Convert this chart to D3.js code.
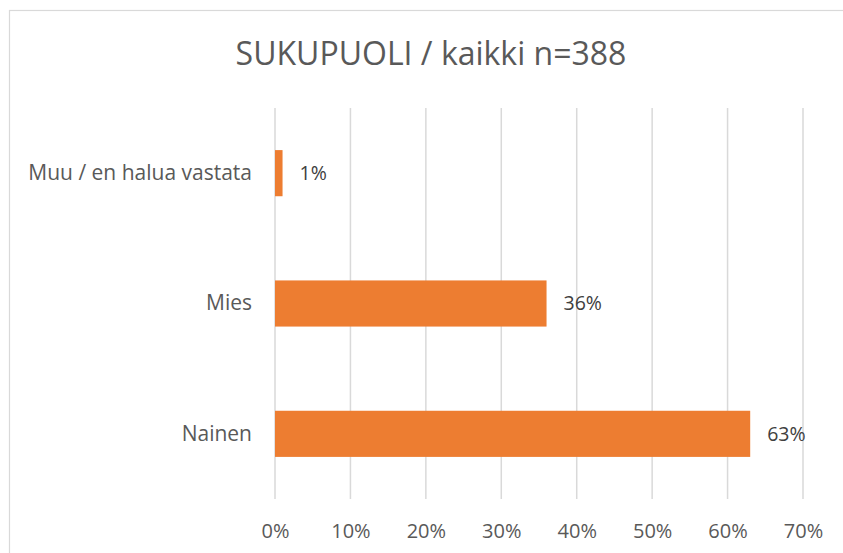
<!DOCTYPE html>
<html>
<head>
<meta charset="utf-8">
<script src="https://cdn.jsdelivr.net/npm/d3@7"></script>
<style>
  body { margin: 0; background: #fff; }
  svg { display: block; font-family: "Open Sans", "Liberation Sans", sans-serif; }
</style>
</head>
<body>
<svg width="843" height="553"></svg>
<script>
var title = "SUKUPUOLI / kaikki n=388";
var categories = ["Muu / en halua vastata", "Mies", "Nainen"];
var values = [1, 36, 63];
var ticks = [0, 10, 20, 30, 40, 50, 60, 70];

var svg = d3.select("svg"),
    margin = {top: 108, right: 40, bottom: 54, left: 275},
    width = 803 - margin.left,
    height = 499 - margin.top;

// chart border
svg.append("rect")
    .attr("x", 9.5).attr("y", 10.5)
    .attr("width", 900).attr("height", 600)
    .attr("fill", "none")
    .attr("stroke", "#d9d9d9")
    .attr("stroke-width", 1.2);

svg.append("text")
    .attr("x", 431).attr("y", 65)
    .attr("text-anchor", "middle")
    .attr("fill", "#595959")
    .style("font-size", "32px")
    .text(title);

var g = svg.append("g").attr("transform", "translate(" + margin.left + "," + margin.top + ")");

var x = d3.scaleLinear().domain([0, 70]).range([0, width]);
var y = d3.scaleBand().domain(categories).range([0, height]).paddingInner(0.646).paddingOuter(0.323);

// gridlines
g.selectAll(".grid")
    .data(ticks)
  .enter().append("line")
    .attr("x1", function(d) { return x(d); })
    .attr("x2", function(d) { return x(d); })
    .attr("y1", 0).attr("y2", height)
    .attr("stroke", "#d9d9d9")
    .attr("stroke-width", 1.5);

// x axis labels
var xAxis = g.append("g")
    .attr("transform", "translate(0," + height + ")")
    .call(d3.axisBottom(x).tickValues(ticks).tickSize(0).tickPadding(25).tickFormat(function(d) { return d + "%"; }));
xAxis.select(".domain").remove();
xAxis.selectAll("text")
    .attr("fill", "#595959")
    .style("font-size", "20px")
    .style("font-family", "'Open Sans', sans-serif");

// y axis labels
var yAxis = g.append("g")
    .call(d3.axisLeft(y).tickSize(0).tickPadding(23));
yAxis.select(".domain").remove();
yAxis.selectAll("text")
    .attr("fill", "#595959")
    .style("font-size", "21px")
    .style("font-family", "'Open Sans', sans-serif");

// bars
g.selectAll(".bar")
    .data(values)
  .enter().append("rect")
    .attr("x", x(0))
    .attr("y", function(d, i) { return y(categories[i]); })
    .attr("width", function(d) { return x(d) - x(0); })
    .attr("height", y.bandwidth())
    .attr("fill", "#ed7d31");

// data labels
g.selectAll(".lbl")
    .data(values)
  .enter().append("text")
    .attr("x", function(d) { return x(d) + 17; })
    .attr("y", function(d, i) { return y(categories[i]) + y.bandwidth() / 2; })
    .attr("dy", "0.35em")
    .attr("fill", "#404040")
    .style("font-size", "19.5px")
    .text(function(d) { return d + "%"; });
</script>
</body>
</html>
